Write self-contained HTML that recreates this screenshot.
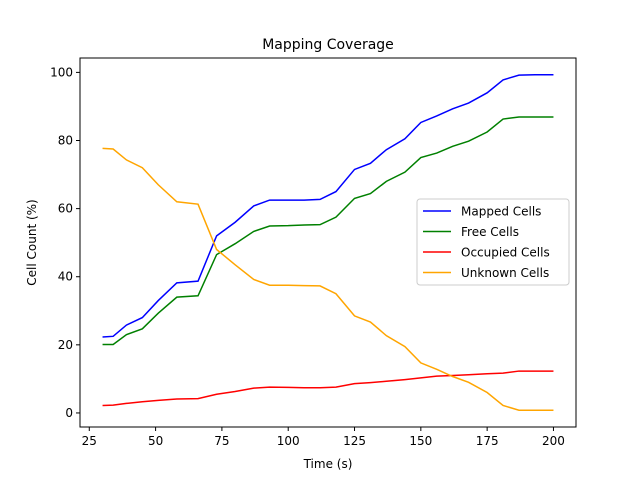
<!DOCTYPE html>
<html><head><meta charset="utf-8"><style>body{margin:0;background:#fff}svg{font-family:"DejaVu Sans","Liberation Sans",sans-serif}</style></head>
<body>
<svg id="chart" width="640" height="480"></svg>
<script>
const times=[30,34,39,45,51,58,66,73,80,87,93,100,106,112,118,125,131,137,144,150,156,162,168,175,181,187,193,200];
const mapped=[22.3,22.5,25.8,28,33,38.2,38.7,52,56,60.8,62.5,62.5,62.5,62.7,65,71.5,73.3,77.3,80.5,85.3,87.2,89.3,91,94,97.8,99.2,99.3,99.3];
const free=[20.1,20.1,23,24.7,29.3,34,34.4,46.5,49.7,53.3,54.9,55,55.2,55.3,57.5,63,64.4,68,70.7,75,76.3,78.3,79.8,82.5,86.3,86.9,86.9,86.9];
const occupied=[2.2,2.3,2.8,3.3,3.7,4.1,4.2,5.5,6.3,7.3,7.6,7.5,7.4,7.4,7.6,8.6,8.9,9.3,9.8,10.3,10.8,11.0,11.2,11.5,11.7,12.3,12.3,12.3];
const unknown=[77.7,77.5,74.3,72,67,62,61.3,48,43.5,39.2,37.5,37.5,37.4,37.3,35,28.5,26.7,22.7,19.5,14.7,12.8,10.7,9,6,2.2,0.8,0.8,0.8];
const xTicks=[25,50,75,100,125,150,175,200];
const yTicks=[0,20,40,60,80,100];
const seriesNames=["Mapped Cells","Free Cells","Occupied Cells","Unknown Cells"];
const seriesColors=["#0000ff","#008000","#ff0000","#ffa500"];

const svg=document.getElementById('chart');const NS='http://www.w3.org/2000/svg';
const L=80,R=576,T=58,B=427;
const xmin=Math.min(...times),xmax=Math.max(...times),xp=(xmax-xmin)*0.05;
const all=[...mapped,...free,...occupied,...unknown];
const ymin=Math.min(...all),ymax=Math.max(...all),yp=(ymax-ymin)*0.05;
const X=v=>L+(v-(xmin-xp))/((xmax+xp)-(xmin-xp))*(R-L);
const Y=v=>B-(v-(ymin-yp))/((ymax+yp)-(ymin-yp))*(B-T);
function el(t,a,txt){const e=document.createElementNS(NS,t);for(const k in a)e.setAttribute(k,a[k]);if(txt!==undefined)e.textContent=txt;svg.appendChild(e);return e;}
let e=el('text',{x:(L+R)/2,y:49,'text-anchor':'middle','font-size':14},'Mapping Coverage');


xTicks.forEach(t=>{const x=X(t);
 e=el('line',{x1:x,x2:x,y1:B,y2:B+4,stroke:'#000'});
 
 
 e=el('text',{x:x,y:B+18,'text-anchor':'middle','font-size':12},String(t));
 
 });
yTicks.forEach(t=>{const y=Y(t);
 e=el('line',{x1:L-4,x2:L,y1:y,y2:y,stroke:'#000'});
 
 
 e=el('text',{x:L-7,y:y+4,'text-anchor':'end','font-size':12},String(t));
 
 });
e=el('text',{x:(L+R)/2,y:468,'text-anchor':'middle','font-size':12},'Time (s)');


e=el('text',{x:36,y:(T+B)/2,'text-anchor':'middle','font-size':12,transform:`rotate(-90 36 ${(T+B)/2})`},'Cell Count (%)');


[mapped,free,occupied,unknown].forEach((s,i)=>{
 e=el('polyline',{points:s.map((v,j)=>X(times[j])+','+Y(v)).join(' '),fill:'none',stroke:seriesColors[i],'stroke-width':1.5});
 
 });
e=el('rect',{x:L,y:T,width:R-L,height:B-T,fill:'none',stroke:'#000','stroke-width':1});


e=el('rect',{x:417,y:199,width:152,height:86,rx:3,fill:'#fff','fill-opacity':0.8,stroke:'#ccc'});


seriesNames.forEach((n,i)=>{const y=211+i*20.5;
 e=el('line',{x1:423,x2:451,y1:y,y2:y,stroke:seriesColors[i],'stroke-width':1.5});
 
 
 e=el('text',{x:461,y:y+4.5,'font-size':12},n);
 
 });
</script>
</body></html>
